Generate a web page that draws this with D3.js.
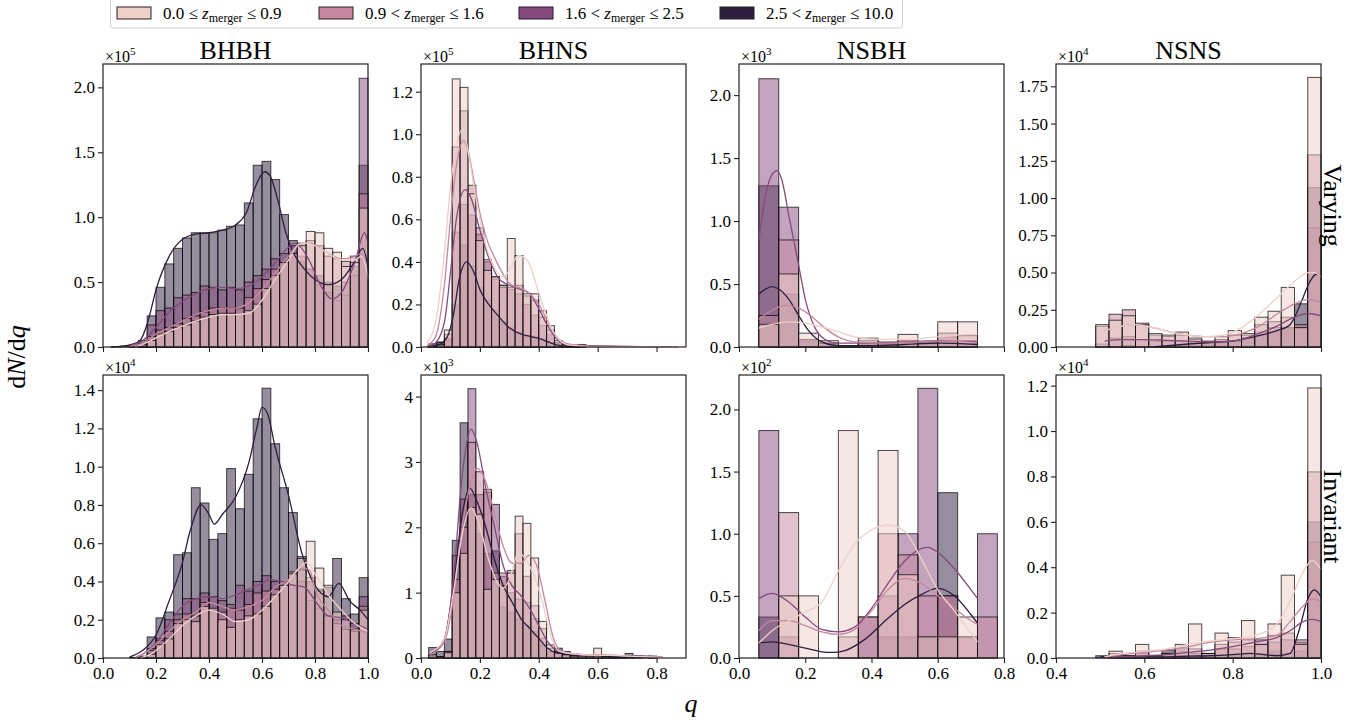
<!DOCTYPE html>
<meta charset="utf-8">
<html>
<head>
  <script src="https://d3js.org/d3.v7.min.js"></script>
  <style>
    body { margin: 0; background: #fff; }
    svg text { font-family: "Liberation Serif", "DejaVu Serif", serif; fill: #000; }
  </style>
</head>
<body>
  <svg width="1368" height="722"></svg>

  <script>
    // hue levels, order: pale, pink, purple, dark
    const levelLow = ["0.0", "0.9", "1.6", "2.5"];
    const levelOp = ["≤", "<", "<", "<"];
    const levelHigh = ["0.9", "1.6", "2.5", "10.0"];
    const colors = ["#eed0c9", "#c6869e", "#85497d", "#2d1e3e"];

    const types = ["BHBH", "BHNS", "NSBH", "NSNS"];
    const rowNames = ["Varying", "Invariant"];

    const xDomains = [[0, 1], [0, 0.9], [0, 0.8], [0.4, 1.0]];
    const xTicks = [[0, 0.2, 0.4, 0.6, 0.8, 1.0], [0, 0.2, 0.4, 0.6, 0.8], [0, 0.2, 0.4, 0.6, 0.8], [0.4, 0.6, 0.8, 1.0]];

    // [first bin edge, bin width]
    const bhbhBins = [0, 1 / 30];
    const bhnsBins = [0.026, 0.0267];
    const nsbhBins = [0.06, 0.06];
    const nsnsBins = [0.49, 0.03];

    // ---------- Varying ----------
    const bhbhVarHist = [
      [0,0,0,0,0.005,0.05,0.10,0.12,0.15,0.17,0.20,0.23,0.25,0.26,0.26,0.25,0.28,0.33,0.45,0.55,0.65,0.72,0.78,0.89,0.88,0.76,0.73,0.62,0.65,1.07],
      [0,0,0,0.005,0.02,0.08,0.13,0.15,0.18,0.22,0.24,0.27,0.30,0.30,0.30,0.30,0.38,0.45,0.52,0.60,0.65,0.72,0.80,0.82,0.78,0.70,0.68,0.66,0.70,1.18],
      [0,0,0,0.01,0.03,0.17,0.28,0.30,0.38,0.40,0.42,0.47,0.46,0.44,0.46,0.44,0.50,0.55,0.60,0.68,0.72,0.78,0.70,0.60,0.48,0.42,0.36,0.40,0.55,2.07],
      [0,0.003,0.008,0.02,0.05,0.24,0.46,0.64,0.76,0.84,0.88,0.88,0.88,0.90,0.93,0.94,1.11,1.40,1.43,1.29,1.02,0.82,0.66,0.60,0.55,0.50,0.47,0.50,0.62,1.40]
    ];
    const bhbhVarKde = [
      [[0.12,0],[0.15,0.02],[0.2,0.07],[0.25,0.12],[0.3,0.16],[0.35,0.2],[0.4,0.23],[0.45,0.25],[0.5,0.25],[0.55,0.26],[0.6,0.36],[0.65,0.52],[0.7,0.67],[0.74,0.79],[0.77,0.8],[0.8,0.78],[0.85,0.72],[0.9,0.67],[0.95,0.67],[0.975,0.7],[1.0,0.54]],
      [[0.1,0.005],[0.15,0.03],[0.2,0.1],[0.25,0.15],[0.3,0.2],[0.35,0.25],[0.4,0.28],[0.45,0.3],[0.5,0.3],[0.55,0.34],[0.6,0.44],[0.65,0.57],[0.7,0.7],[0.74,0.79],[0.78,0.8],[0.82,0.76],[0.86,0.71],[0.9,0.68],[0.94,0.69],[0.975,0.72],[1.0,0.52]],
      [[0.1,0.01],[0.15,0.05],[0.2,0.15],[0.25,0.27],[0.3,0.35],[0.35,0.41],[0.4,0.45],[0.45,0.46],[0.5,0.45],[0.55,0.47],[0.6,0.54],[0.65,0.65],[0.7,0.77],[0.72,0.8],[0.75,0.76],[0.78,0.66],[0.82,0.48],[0.865,0.37],[0.9,0.42],[0.95,0.65],[0.987,0.88],[1.0,0.8]],
      [[0.03,0],[0.1,0.015],[0.14,0.05],[0.17,0.2],[0.2,0.44],[0.25,0.7],[0.3,0.83],[0.35,0.87],[0.4,0.88],[0.45,0.9],[0.5,0.94],[0.54,1.03],[0.58,1.26],[0.61,1.35],[0.63,1.32],[0.66,1.13],[0.69,0.88],[0.72,0.72],[0.76,0.6],[0.8,0.52],[0.85,0.48],[0.9,0.52],[0.95,0.66],[0.98,0.76],[1.0,0.62]]
    ];

    const bhnsVarHist = [
      [0.005,0.01,0.08,1.26,1.22,0.72,0.50,0.36,0.33,0.29,0.51,0.43,0.25,0.25,0.17,0.10,0.03,0.01,0.005,0.005],
      [0.005,0.01,0.06,0.94,1.11,0.76,0.56,0.41,0.33,0.28,0.28,0.29,0.24,0.22,0.14,0.08,0.02,0.01,0.005,0.003],
      [0.005,0.02,0.04,0.54,0.67,0.62,0.53,0.40,0.32,0.29,0.27,0.25,0.20,0.15,0.10,0.06,0.02,0.01,0.005,0.012],
      [0.015,0.024,0.03,0.20,0.48,0.38,0.28,0.22,0.17,0.12,0.09,0.07,0.05,0.05,0.04,0.02,0.01,0.005,0.003,0.003]
    ];
    const bhnsVarKde = [
      [[0.02,0.02],[0.05,0.12],[0.08,0.45],[0.1,0.75],[0.12,0.95],[0.14,1.02],[0.16,0.92],[0.18,0.75],[0.2,0.6],[0.22,0.48],[0.25,0.37],[0.28,0.33],[0.3,0.36],[0.33,0.43],[0.36,0.41],[0.39,0.3],[0.42,0.17],[0.45,0.07],[0.5,0.01],[0.6,0],[0.87,0]],
      [[0.02,0.005],[0.05,0.05],[0.08,0.3],[0.1,0.6],[0.12,0.85],[0.145,0.97],[0.16,0.92],[0.18,0.78],[0.2,0.63],[0.22,0.52],[0.25,0.42],[0.28,0.34],[0.3,0.3],[0.33,0.28],[0.36,0.26],[0.4,0.2],[0.43,0.12],[0.46,0.05],[0.5,0.015],[0.6,0.003],[0.87,0]],
      [[0.02,0],[0.05,0.02],[0.08,0.12],[0.1,0.35],[0.12,0.6],[0.15,0.74],[0.17,0.7],[0.2,0.55],[0.23,0.42],[0.26,0.33],[0.3,0.29],[0.34,0.27],[0.37,0.25],[0.4,0.18],[0.43,0.1],[0.46,0.04],[0.5,0.01],[0.87,0]],
      [[0.02,0],[0.06,0.01],[0.09,0.05],[0.11,0.15],[0.13,0.32],[0.155,0.4],[0.18,0.35],[0.2,0.27],[0.23,0.2],[0.26,0.15],[0.3,0.09],[0.34,0.06],[0.37,0.05],[0.4,0.04],[0.43,0.025],[0.46,0.01],[0.5,0.003],[0.87,0]]
    ];

    const nsbhVarHist = [
      [0.18,0.58,0.11,0.05,0.01,0.07,0.04,0.10,0.04,0.20,0.20],
      [0.25,0.85,0.06,0.03,0.01,0.05,0.03,0.05,0.03,0.11,0.09],
      [2.13,1.11,0.05,0.03,0.01,0.03,0.03,0.04,0.03,0.08,0.05],
      [1.28,0.42,0.04,0.03,0.005,0.02,0.02,0.03,0.02,0.05,0.03]
    ];
    const nsbhVarKde = [
      [[0.06,0.15],[0.1,0.18],[0.15,0.2],[0.2,0.19],[0.25,0.16],[0.3,0.12],[0.35,0.08],[0.42,0.06],[0.5,0.06],[0.6,0.08],[0.7,0.1],[0.72,0.1]],
      [[0.06,0.22],[0.1,0.29],[0.14,0.33],[0.18,0.31],[0.22,0.24],[0.26,0.15],[0.3,0.08],[0.35,0.04],[0.45,0.03],[0.55,0.04],[0.65,0.05],[0.72,0.05]],
      [[0.06,0.85],[0.08,1.2],[0.1,1.37],[0.115,1.4],[0.13,1.32],[0.15,1.05],[0.18,0.65],[0.2,0.38],[0.23,0.15],[0.26,0.06],[0.3,0.03],[0.4,0.03],[0.5,0.04],[0.6,0.05],[0.66,0.05],[0.72,0.04]],
      [[0.06,0.42],[0.08,0.46],[0.1,0.48],[0.12,0.46],[0.15,0.38],[0.18,0.25],[0.21,0.13],[0.25,0.04],[0.3,0.01],[0.4,0.01],[0.5,0.02],[0.6,0.03],[0.72,0.02]]
    ];

    const nsnsVarHist = [
      [0.15,0.18,0.21,0.15,0.09,0.08,0.10,0.06,0.04,0.07,0.11,0.09,0.20,0.24,0.40,0.13,1.81],
      [0.14,0.22,0.25,0.16,0.08,0.07,0.08,0.05,0.03,0.05,0.08,0.08,0.15,0.17,0.20,0.15,1.29],
      [0.02,0.06,0.07,0.05,0.04,0.04,0.04,0.03,0.03,0.04,0.04,0.06,0.10,0.13,0.13,0.13,0.80],
      [0,0,0.01,0,0,0.01,0.01,0.01,0.02,0.03,0.04,0.06,0.08,0.10,0.13,0.29,1.07]
    ];
    const nsnsVarKde = [
      [[0.51,0.11],[0.55,0.14],[0.58,0.15],[0.62,0.13],[0.66,0.1],[0.7,0.08],[0.74,0.07],[0.78,0.08],[0.82,0.13],[0.86,0.22],[0.9,0.33],[0.94,0.44],[0.97,0.5],[0.985,0.5],[1.0,0.47]],
      [[0.51,0.11],[0.55,0.14],[0.58,0.15],[0.62,0.13],[0.66,0.1],[0.7,0.08],[0.74,0.07],[0.78,0.07],[0.82,0.09],[0.86,0.14],[0.9,0.22],[0.94,0.29],[0.97,0.32],[1.0,0.3]],
      [[0.51,0.04],[0.55,0.05],[0.6,0.05],[0.65,0.045],[0.7,0.04],[0.75,0.035],[0.8,0.04],[0.85,0.08],[0.9,0.14],[0.94,0.2],[0.97,0.225],[1.0,0.21]],
      [[0.62,0],[0.66,0.01],[0.7,0.02],[0.75,0.03],[0.8,0.04],[0.85,0.07],[0.9,0.11],[0.93,0.15],[0.955,0.3],[0.975,0.44],[0.99,0.49],[1.0,0.47]]
    ];

    // ---------- Invariant ----------
    const bhbhInvHist = [
      [0,0,0,0,0,0.02,0.07,0.10,0.18,0.20,0.19,0.27,0.26,0.20,0.16,0.20,0.22,0.23,0.27,0.33,0.38,0.44,0.52,0.61,0.47,0.38,0.24,0.20,0.15,0.25],
      [0,0,0,0,0.003,0.04,0.09,0.14,0.20,0.23,0.22,0.29,0.25,0.24,0.26,0.25,0.28,0.34,0.35,0.36,0.40,0.45,0.46,0.42,0.35,0.22,0.18,0.15,0.14,0.27],
      [0,0,0,0,0.005,0.05,0.10,0.20,0.23,0.31,0.31,0.34,0.32,0.30,0.28,0.38,0.35,0.40,0.43,0.40,0.38,0.38,0.40,0.30,0.26,0.22,0.20,0.22,0.18,0.32],
      [0,0,0,0.003,0.01,0.11,0.21,0.24,0.54,0.55,0.89,0.81,0.62,0.65,0.99,0.78,0.96,1.25,1.41,1.12,0.89,0.76,0.53,0.40,0.36,0.37,0.52,0.31,0.23,0.42]
    ];
    const bhbhInvKde = [
      [[0.14,0],[0.18,0.02],[0.2,0.04],[0.25,0.1],[0.3,0.17],[0.35,0.22],[0.4,0.25],[0.45,0.23],[0.5,0.19],[0.55,0.2],[0.6,0.25],[0.65,0.32],[0.7,0.4],[0.74,0.47],[0.77,0.5],[0.8,0.44],[0.85,0.33],[0.9,0.25],[0.95,0.18],[1.0,0.14]],
      [[0.12,0],[0.15,0.02],[0.2,0.07],[0.25,0.14],[0.3,0.2],[0.35,0.24],[0.4,0.29],[0.45,0.27],[0.5,0.25],[0.55,0.27],[0.6,0.3],[0.65,0.37],[0.7,0.41],[0.75,0.47],[0.78,0.46],[0.8,0.36],[0.85,0.25],[0.9,0.17],[0.95,0.15],[1.0,0.13]],
      [[0.12,0],[0.15,0.02],[0.2,0.08],[0.25,0.18],[0.3,0.27],[0.35,0.31],[0.4,0.32],[0.45,0.31],[0.5,0.33],[0.55,0.36],[0.6,0.39],[0.63,0.41],[0.67,0.4],[0.72,0.38],[0.76,0.37],[0.8,0.3],[0.85,0.22],[0.9,0.21],[0.95,0.18],[1.0,0.15]],
      [[0.1,0.005],[0.15,0.04],[0.2,0.12],[0.25,0.3],[0.3,0.5],[0.33,0.67],[0.37,0.8],[0.4,0.75],[0.42,0.7],[0.45,0.75],[0.5,0.84],[0.55,1.02],[0.58,1.2],[0.6,1.31],[0.62,1.28],[0.65,1.1],[0.7,0.85],[0.75,0.55],[0.8,0.38],[0.85,0.32],[0.89,0.39],[0.93,0.3],[0.97,0.25],[1.0,0.2]]
    ];

    const bhnsInvHist = [
      [0.05,0.02,0.08,1.00,1.60,2.30,2.20,1.05,1.20,1.10,1.30,2.17,2.06,1.53,0.56,0.20,0.08,0.05,0.03,0.03,0.03,0.15,0.02],
      [0.03,0.02,0.10,1.20,2.00,3.30,2.85,2.58,1.30,1.30,1.34,1.90,1.25,0.80,0.45,0.15,0.08,0.05,0.03,0.02,0.02,0.03,0.02,0.01,0.01],
      [0.03,0.02,0.10,1.57,2.43,4.12,2.50,2.54,2.35,1.25,1.00,0.90,0.85,0.60,0.30,0.10,0.10,0.05,0.03,0.02,0.02,0.02,0.02,0.01,0.01,0.01,0.01,0,0.01],
      [0.16,0.10,0.29,1.80,3.60,2.50,1.90,1.60,1.64,0.78,0.70,0.60,0.50,0.40,0.20,0.10,0.15,0.10,0.05,0.03,0.03,0.02,0.02,0.02,0.02,0.07,0.01,0.01,0.03]
    ];
    const bhnsInvKde = [
      [[0.03,0.08],[0.08,0.3],[0.11,1.0],[0.14,1.9],[0.17,2.3],[0.2,2.0],[0.23,1.5],[0.26,1.15],[0.28,1.07],[0.3,1.2],[0.33,1.6],[0.35,1.55],[0.38,1.3],[0.41,0.9],[0.44,0.35],[0.47,0.1],[0.55,0.05],[0.65,0.04],[0.75,0.02],[0.82,0.01]],
      [[0.03,0.05],[0.08,0.25],[0.11,0.9],[0.14,2.0],[0.17,2.7],[0.19,2.9],[0.22,2.7],[0.25,2.2],[0.28,1.7],[0.31,1.45],[0.34,1.45],[0.365,1.57],[0.39,1.45],[0.42,0.9],[0.45,0.3],[0.48,0.1],[0.55,0.05],[0.65,0.04],[0.75,0.02],[0.82,0.01]],
      [[0.03,0.05],[0.08,0.3],[0.11,1.2],[0.14,2.8],[0.17,3.5],[0.19,3.3],[0.22,2.6],[0.25,2.0],[0.28,1.4],[0.31,1.1],[0.34,0.95],[0.37,0.75],[0.4,0.5],[0.43,0.25],[0.47,0.1],[0.55,0.05],[0.65,0.04],[0.75,0.03],[0.82,0.01]],
      [[0.03,0.05],[0.08,0.3],[0.11,1.1],[0.14,2.2],[0.165,2.6],[0.19,2.4],[0.22,2.0],[0.25,1.5],[0.28,1.1],[0.31,0.85],[0.34,0.6],[0.37,0.45],[0.4,0.3],[0.43,0.15],[0.46,0.08],[0.55,0.04],[0.65,0.03],[0.75,0.03],[0.82,0.01]]
    ];

    const nsbhInvHist = [
      [0,0.50,0.50,0,1.83,0,1.67,0.67,0.17,0.17,0.33,0],
      [0,1.17,0,0,0.17,0.33,1.00,0.83,0.50,0.50,0.17,0.33],
      [1.83,0.17,0,0,0,0.33,0.50,1.00,2.17,0.50,0.17,1.00],
      [0.33,0,0,0,0,0,0.17,0.17,0.17,1.33,0,0]
    ];
    const nsbhInvKde = [
      [[0.06,0.12],[0.1,0.22],[0.15,0.3],[0.2,0.37],[0.25,0.45],[0.3,0.7],[0.35,0.92],[0.4,1.03],[0.45,1.07],[0.5,1.02],[0.55,0.8],[0.6,0.55],[0.65,0.38],[0.7,0.2],[0.72,0.13]],
      [[0.06,0.22],[0.1,0.3],[0.15,0.3],[0.2,0.26],[0.25,0.21],[0.3,0.19],[0.35,0.23],[0.4,0.38],[0.45,0.55],[0.5,0.64],[0.55,0.6],[0.6,0.5],[0.65,0.4],[0.7,0.3],[0.72,0.27]],
      [[0.06,0.48],[0.1,0.52],[0.15,0.45],[0.2,0.33],[0.25,0.23],[0.3,0.21],[0.35,0.25],[0.4,0.4],[0.45,0.6],[0.5,0.78],[0.55,0.88],[0.57,0.89],[0.6,0.85],[0.65,0.72],[0.7,0.55],[0.72,0.48]],
      [[0.06,0.12],[0.1,0.13],[0.15,0.11],[0.2,0.08],[0.25,0.05],[0.28,0.045],[0.32,0.06],[0.38,0.15],[0.45,0.32],[0.5,0.43],[0.55,0.51],[0.6,0.56],[0.65,0.5],[0.7,0.35],[0.72,0.28]]
    ];

    const nsnsInvHist = [
      [0,0.03,0.01,0.06,0.01,0.02,0.06,0.15,0.02,0.11,0.09,0.165,0.06,0.15,0.365,0.06,1.19],
      [0,0.02,0.01,0.03,0.01,0.02,0.04,0.04,0.02,0.06,0.07,0.08,0.08,0.10,0.11,0.08,0.82],
      [0,0.01,0.01,0.02,0.01,0.02,0.03,0.02,0.02,0.04,0.04,0.05,0.06,0.07,0.08,0.07,0.51],
      [0.01,0,0.01,0.01,0.01,0.035,0.01,0.01,0.02,0.01,0.01,0.02,0.02,0.03,0.02,0.03,0.60]
    ];
    const nsnsInvKde = [
      [[0.51,0.005],[0.55,0.02],[0.6,0.03],[0.65,0.04],[0.7,0.06],[0.75,0.075],[0.8,0.085],[0.85,0.1],[0.9,0.15],[0.93,0.25],[0.96,0.38],[0.98,0.43],[1.0,0.39]],
      [[0.51,0.005],[0.55,0.015],[0.6,0.025],[0.65,0.035],[0.7,0.05],[0.75,0.07],[0.8,0.08],[0.85,0.085],[0.9,0.1],[0.93,0.16],[0.96,0.23],[0.98,0.26],[1.0,0.25]],
      [[0.51,0.002],[0.6,0.01],[0.65,0.015],[0.7,0.025],[0.75,0.035],[0.8,0.05],[0.85,0.07],[0.9,0.09],[0.93,0.12],[0.96,0.16],[0.98,0.17],[1.0,0.16]],
      [[0.5,0.005],[0.55,0.01],[0.6,0.005],[0.65,0.005],[0.7,0.008],[0.75,0.01],[0.8,0.015],[0.84,0.02],[0.87,0.015],[0.9,0.01],[0.93,0.02],[0.95,0.12],[0.97,0.26],[0.985,0.3],[1.0,0.27]]
    ];

    // y limits, ticks and scale exponents per panel (row-major)
    const yMaxes = [2.18, 1.33, 2.247, 1.90, 1.479, 4.33, 2.277, 1.247];
    const yTicks = [
      [0, 0.5, 1, 1.5, 2], [0, 0.2, 0.4, 0.6, 0.8, 1.0, 1.2], [0, 0.5, 1, 1.5, 2], [0, 0.25, 0.5, 0.75, 1, 1.25, 1.5, 1.75],
      [0, 0.2, 0.4, 0.6, 0.8, 1.0, 1.2, 1.4], [0, 1, 2, 3, 4], [0, 0.5, 1, 1.5, 2], [0, 0.2, 0.4, 0.6, 0.8, 1.0, 1.2]
    ];
    const yFormats = [".1f", ".1f", ".1f", ".2f", ".1f", "d", ".1f", ".1f"];
    const exponents = [5, 5, 3, 4, 4, 3, 2, 4];

    const hists = [bhbhVarHist, bhnsVarHist, nsbhVarHist, nsnsVarHist, bhbhInvHist, bhnsInvHist, nsbhInvHist, nsnsInvHist];
    const kdes = [bhbhVarKde, bhnsVarKde, nsbhVarKde, nsnsVarKde, bhbhInvKde, bhnsInvKde, nsbhInvKde, nsnsInvKde];
    const bins = [bhbhBins, bhnsBins, nsbhBins, nsnsBins];

    // layout
    const colX = [103, 421, 739, 1056];
    const rowY = [64, 375];
    const pw = 265, ph = 283;

    const svg = d3.select("svg");

    function drawPanel(idx) {
      const row = Math.floor(idx / 4), col = idx % 4;
      const g = svg.append("g").attr("transform", `translate(${colX[col]},${rowY[row]})`);
      const x = d3.scaleLinear().domain(xDomains[col]).range([0, pw]);
      const y = d3.scaleLinear().domain([0, yMaxes[idx]]).range([ph, 0]);
      const [b0, bw] = bins[col];

      // layered bars, last hue level drawn first
      for (let s = 3; s >= 0; s--) {
        const bars = hists[idx][s].map((v, i) => ({v, i})).filter(d => d.v > 0);
        g.selectAll(null)
          .data(bars)
          .enter().append("rect")
            .attr("x", d => x(b0 + d.i * bw))
            .attr("width", d => x(b0 + (d.i + 1) * bw) - x(b0 + d.i * bw))
            .attr("y", d => y(d.v))
            .attr("height", d => y(0) - y(d.v))
            .attr("fill", colors[s])
            .attr("fill-opacity", 0.5)
            .attr("stroke", "#000")
            .attr("stroke-opacity", 0.7)
            .attr("stroke-width", 1);
      }

      const line = d3.line()
        .x(d => x(d[0]))
        .y(d => y(d[1]))
        .curve(d3.curveMonotoneX);
      for (let s = 3; s >= 0; s--) {
        g.append("path")
          .attr("d", line(kdes[idx][s]))
          .attr("fill", "none")
          .attr("stroke", colors[s])
          .attr("stroke-width", 1.3);
      }

      // axes
      const ax = g.append("g")
        .call(d3.axisLeft(y).tickValues(yTicks[idx]).tickFormat(d3.format(yFormats[idx])).tickSize(5).tickPadding(3));
      const bx = g.append("g")
        .attr("transform", `translate(0,${ph})`)
        .call(d3.axisBottom(x).tickValues(xTicks[col])
          .tickFormat(row === 1 ? d3.format(".1f") : "").tickSize(5).tickPadding(4));
      [ax, bx].forEach(a => {
        a.select(".domain").remove();
        a.selectAll("line").attr("stroke", "#222").attr("stroke-width", 1.1);
        a.selectAll("text").style("font-size", "17px").attr("fill", "#111");
      });

      g.append("rect")
        .attr("width", pw).attr("height", ph)
        .attr("fill", "none").attr("stroke", "#222").attr("stroke-width", 1.2);

      // offset text
      const off = g.append("text").attr("x", 2).attr("y", -2).style("font-size", "16px");
      off.append("tspan").text("×10");
      off.append("tspan").attr("dy", -7).style("font-size", "11px").text(exponents[idx]);

      if (row === 0) {
        g.append("text")
          .attr("x", pw / 2).attr("y", -5)
          .attr("text-anchor", "middle")
          .style("font-size", "26px")
          .text(types[col]);
      }
      if (col === 3) {
        g.append("text")
          .attr("transform", `translate(${pw + 3},${ph / 2 + 0}) rotate(90)`)
          .attr("text-anchor", "middle")
          .style("font-size", "26px")
          .text(rowNames[row]);
      }
    }

    for (let i = 0; i < 8; i++) drawPanel(i);

    // shared axis labels
    const yl = svg.append("text")
      .attr("transform", "translate(25,357) rotate(-90)")
      .attr("text-anchor", "middle")
      .style("font-size", "26px");
    yl.append("tspan").text("d");
    yl.append("tspan").style("font-style", "italic").text("N");
    yl.append("tspan").text("/d");
    yl.append("tspan").style("font-style", "italic").text("q");

    svg.append("text")
      .attr("x", 691).attr("y", 712)
      .attr("text-anchor", "middle")
      .style("font-size", "26px")
      .style("font-style", "italic")
      .text("q");

    // legend
    const legendX = [117, 319, 519, 720];
    const lg = svg.append("g");
    lg.append("rect")
      .attr("x", 110.5).attr("y", -4).attr("width", 792).attr("height", 32)
      .attr("rx", 3)
      .attr("fill", "#fff").attr("stroke", "#d0d0d0");
    levelLow.forEach((lo, i) => {
      lg.append("rect")
        .attr("x", legendX[i]).attr("y", 7).attr("width", 34).attr("height", 12)
        .attr("fill", colors[i]).attr("stroke", "#222").attr("stroke-width", 1);
      const t = lg.append("text")
        .attr("x", legendX[i] + 46).attr("y", 19)
        .style("font-size", "17px");
      t.append("tspan").text(`${lo} ${levelOp[i]} `);
      t.append("tspan").style("font-style", "italic").text("z");
      t.append("tspan").attr("dy", 3).style("font-size", "12px").text("merger");
      t.append("tspan").attr("dy", -3).text(` ≤ ${levelHigh[i]}`);
    });
  </script>
</body>
</html>
